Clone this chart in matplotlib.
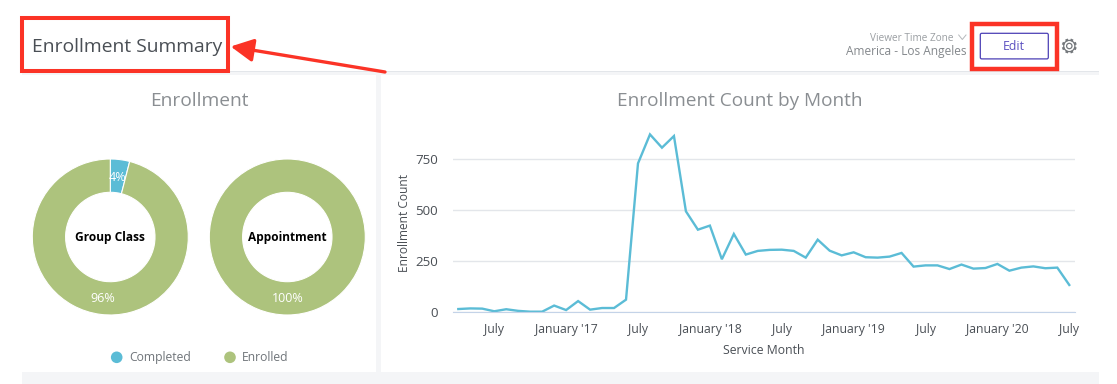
import math

import matplotlib
matplotlib.use('Agg')
import matplotlib.pyplot as plt
from matplotlib.patches import Rectangle, Circle, FancyBboxPatch

plt.rcParams['font.family'] = ['Open Sans', 'DejaVu Sans']

W, H = 1117, 384

# monthly enrollment count, April 2016 to July 2020
counts = [16, 19, 18, 5, 15, 7, 3, 3, 33, 11, 55, 13, 21, 21, 62, 730, 872, 807, 864, 495,
          405, 425, 260, 384, 283, 301, 306, 307, 301, 268, 356, 302, 279, 294, 270, 268,
          273, 291, 224, 230, 230, 212, 234, 214, 217, 237, 204, 219, 225, 216, 219, 134]
month_index = list(range(len(counts)))
tick_index = [3, 9, 15, 21, 27, 33, 39, 45, 51]
tick_labels = ['July', "January '17", 'July', "January '18", 'July', "January '19",
               'July', "January '20", 'July']
y_ticks = [0, 250, 500, 750]

donut_names = ['Group Class', 'Appointment']
completed = [4, 0]
enrolled = [96, 100]

BLUE = '#5bbcd6'
GREEN = '#adc37d'
RED = '#fb3326'
GREY = '#6f7479'


def axes_px(x0, y0, x1, y1, **kw):
    # axes placed by pixel box, y counted from the top
    return fig.add_axes([x0 / W, 1 - y1 / H, (x1 - x0) / W, (y1 - y0) / H], **kw)


fig = plt.figure(figsize=(W / 100, H / 100), dpi=100, facecolor='white')

# page furniture in pixel coordinates
bg = axes_px(0, 0, W, H)
bg.set_xlim(0, W)
bg.set_ylim(H, 0)
bg.axis('off')
bg.add_patch(Rectangle((22, 71), 1077, 4, fc='#f4f5f7', ec='none'))
bg.add_patch(Rectangle((22, 71), 1077, 1.2, fc='#e3e6ea', ec='none'))
bg.add_patch(Rectangle((376, 75), 5, 297, fc='#f4f5f7', ec='none'))
bg.add_patch(Rectangle((22, 372), 1077, 12, fc='#f4f5f7', ec='none'))

bg.text(32, 47.5, 'Enrollment Summary', fontsize=13.9, color='#4a4f55', va='center', ha='left')
bg.text(199, 101, 'Enrollment', fontsize=13.8, color='#8a8e92', va='center', ha='center')
bg.text(740, 101, 'Enrollment Count by Month', fontsize=13.7, color='#8a8e92', va='center', ha='center')
bg.text(954, 38.5, 'Viewer Time Zone', fontsize=7.2, color='#9a9ea2', va='center', ha='right')
bg.plot([958.7, 962.3, 966], [35, 39.5, 35], color='#b5b8bb', lw=0.7)
bg.text(967, 51.5, 'America - Los Angeles', fontsize=8.6, color='#84888c', va='center', ha='right')

bg.add_patch(FancyBboxPatch((980.3, 33.3), 68, 25.6, boxstyle='round,pad=0,rounding_size=1.5',
                            fc='white', ec='#4b3fb5', lw=0.9))
bg.text(1014, 46.5, 'Edit', fontsize=8.8, color='#5a4fc0', va='center', ha='center')

# gear icon
for k in range(8):
    a = k * math.pi / 4 + math.pi / 8
    bg.plot([1069.3 + 5.2 * math.cos(a), 1069.3 + 7.5 * math.cos(a)],
            [46 + 5.2 * math.sin(a), 46 + 7.5 * math.sin(a)], color='#74787c', lw=2, solid_capstyle='butt')
bg.add_patch(Circle((1069.3, 46), 5.6, fc='white', ec='#74787c', lw=0.9))
bg.add_patch(Circle((1069.3, 46), 2.7, fc='white', ec='#74787c', lw=0.9))

# red annotation boxes and arrow
bg.add_patch(Rectangle((22, 18), 206, 53, fc='none', ec=RED, lw=2.9))
bg.add_patch(Rectangle((972.3, 24.3), 84.5, 44.2, fc='none', ec=RED, lw=3.2))
bg.annotate('', xy=(230.7, 46.5), xytext=(385, 72),
            arrowprops=dict(arrowstyle='-|>,head_length=1.37,head_width=0.7', color=RED, lw=2.4,
                            shrinkA=0, shrinkB=0))

# donuts
for cx, name, c, e in zip([110.3, 287.3], donut_names, completed, enrolled):
    ax = axes_px(cx - 79, 158, cx + 79, 316)
    r = 78 / 79
    ax.pie([c, e], colors=[BLUE, GREEN], startangle=90, counterclock=False, radius=r,
           wedgeprops=dict(width=33.3 / 79, edgecolor='white', linewidth=0.8))
    ax.set_xlim(-1, 1)
    ax.set_ylim(-1, 1)
    ax.text(0, -0.012, name, fontsize=8.6, fontweight='bold', color='black', ha='center', va='center')
    # value labels sit at the middle of their wedge
    label_r = 61 / 79
    a = math.radians((c + e / 2) * 3.6)
    ax.text(label_r * math.sin(a), label_r * math.cos(a) - 0.01, f'{e}%', fontsize=9, color='white',
            ha='center', va='center')
    if c:
        a = math.radians(c / 2 * 3.6)
        ax.text(label_r * math.sin(a), label_r * math.cos(a) - 0.01, f'{c}%', fontsize=9, color='white',
                ha='center', va='center')

# donut legend
bg.add_patch(Circle((116.7, 357.3), 5.8, fc=BLUE, ec='none'))
bg.text(129.5, 357.8, 'Completed', fontsize=8.7, color=GREY, va='center', ha='left')
bg.add_patch(Circle((230, 357.3), 5.8, fc=GREEN, ec='none'))
bg.text(242, 357.8, 'Enrolled', fontsize=8.7, color=GREY, va='center', ha='left')

# line chart
left, right, top, base = 452.7, 1075, 128, 312.3
px_per_month = 11.98
px_per_count = 153 / 750
ax = axes_px(left, top, right, base)
ax.patch.set_alpha(0)
ax.plot(month_index, counts, color=BLUE, lw=1.7, solid_joinstyle='miter', clip_on=False)
ax.set_xlim((left - 458.3) / px_per_month, (right - 458.3) / px_per_month)
ax.set_ylim(0, (base - top) / px_per_count)
ax.set_xticks(tick_index)
ax.set_xticklabels(tick_labels)
ax.set_yticks(y_ticks)
ax.tick_params(length=0, labelsize=8.8, labelcolor='#4a4f55')
ax.tick_params(axis='x', pad=8)
ax.tick_params(axis='y', pad=10.5, labelsize=9.6)
ax.grid(axis='y', color='#e3e6ea', lw=1)
ax.set_axisbelow(True)
for side in ['top', 'right', 'left']:
    ax.spines[side].set_visible(False)
ax.spines['bottom'].set_color('#c4d3e8')
bg.text(404.5, 222.5, 'Enrollment Count', fontsize=8.6, rotation=90, color='#4a4f55', va='center', ha='center')
bg.text(763.5, 350, 'Service Month', fontsize=8.8, color='#4a4f55', va='center', ha='center')

fig.savefig('out.png', dpi=100)
